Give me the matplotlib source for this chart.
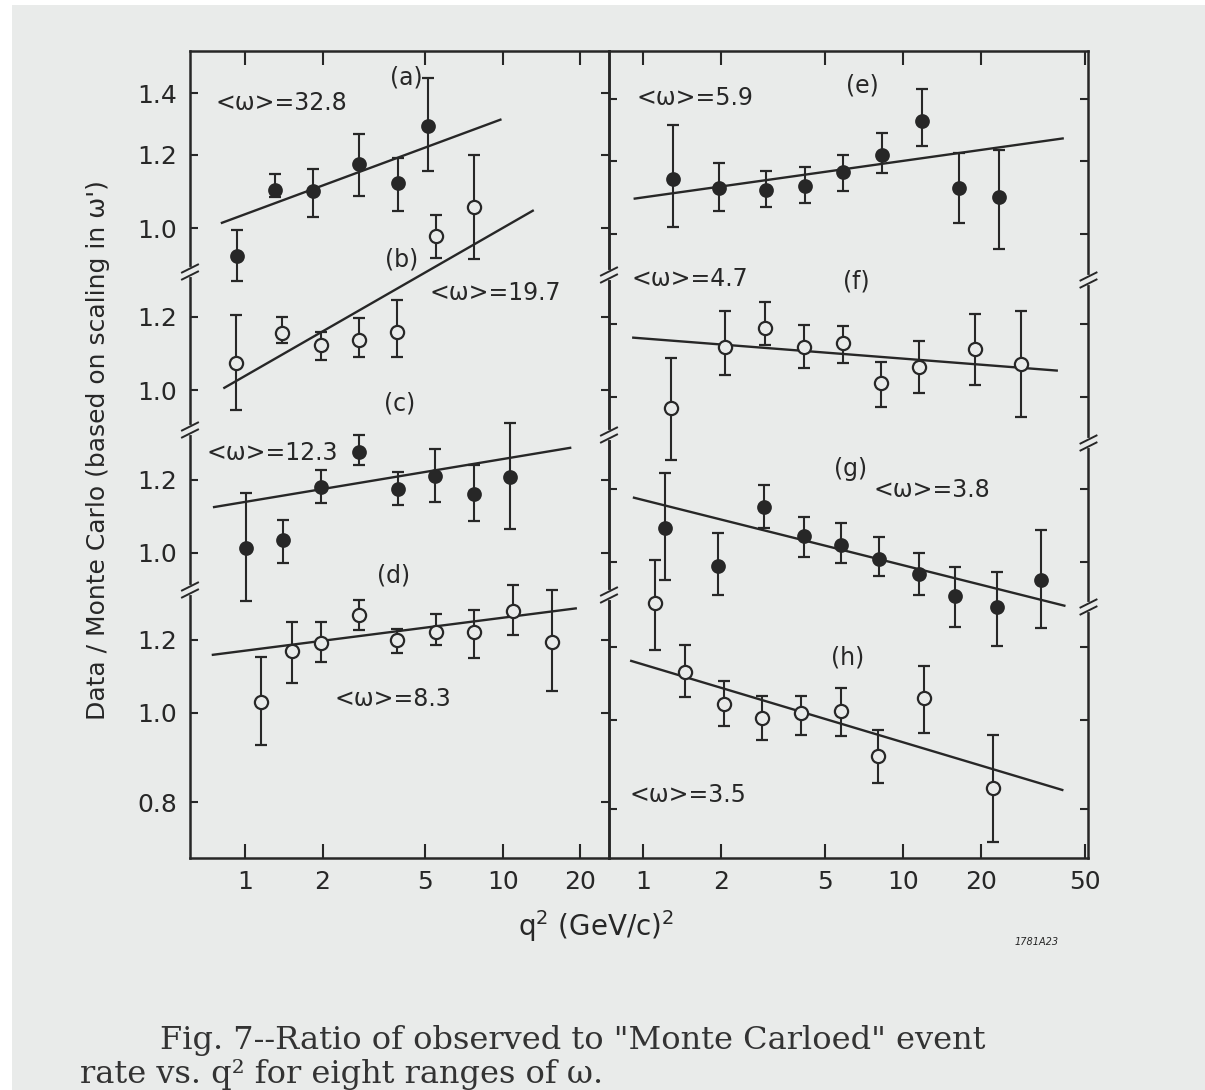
import numpy as np
import matplotlib
matplotlib.use("Agg")
import matplotlib.pyplot as plt
from matplotlib.patches import Rectangle
from matplotlib.lines import Line2D
from matplotlib.ticker import NullLocator

# ---------------- data (ratio Data/Monte Carlo vs q^2) ----------------
# (a) <w>=32.8  filled
q2_a = [0.93, 1.31, 1.84, 2.78, 3.93, 5.14]
r_a = [0.933, 1.100, 1.097, 1.173, 1.118, 1.290]
hi_a = [0.995, 1.143, 1.158, 1.264, 1.190, 1.453]
lo_a = [0.875, 1.080, 1.027, 1.083, 1.044, 1.154]
fitx_a = [0.806, 9.88]
fity_a = [1.012, 1.312]

# (b) <w>=19.7  open
q2_b = [0.923, 1.39, 1.963, 2.761, 3.88, 5.51, 7.70]
r_b = [1.069, 1.153, 1.119, 1.133, 1.157, 1.469, 1.580]
hi_b = [1.206, 1.200, 1.155, 1.196, 1.252, 1.548, 1.800]
lo_b = [0.951, 1.124, 1.078, 1.087, 1.087, 1.389, 1.386]
fitx_b = [0.824, 13.18]
fity_b = [1.004, 1.567]

# (c) <w>=12.3  filled
q2_c = [1.006, 1.405, 1.967, 2.771, 3.904, 5.475, 7.74, 10.69]
r_c = [1.012, 1.033, 1.178, 1.288, 1.172, 1.213, 1.159, 1.210]
hi_c = [1.161, 1.086, 1.230, 1.343, 1.225, 1.296, 1.246, 1.385]
lo_c = [0.888, 0.975, 1.132, 1.246, 1.127, 1.137, 1.084, 1.061]
fitx_c = [0.751, 18.43]
fity_c = [1.121, 1.301]

# (d) <w>=8.3  open
q2_d = [1.155, 1.516, 1.978, 2.766, 3.893, 5.505, 7.745, 10.95, 15.54]
r_d = [1.029, 1.168, 1.192, 1.277, 1.200, 1.225, 1.225, 1.291, 1.195]
hi_d = [1.151, 1.256, 1.256, 1.326, 1.232, 1.282, 1.293, 1.377, 1.360]
lo_d = [0.923, 1.077, 1.137, 1.230, 1.163, 1.185, 1.146, 1.215, 1.057]
fitx_d = [0.743, 19.37]
fity_d = [1.156, 1.299]

# (e) <w>=5.9  filled
q2_e = [1.305, 1.966, 2.975, 4.20, 5.87, 8.27, 11.79, 16.42, 23.32]
r_e = [1.147, 1.121, 1.116, 1.128, 1.167, 1.218, 1.326, 1.121, 1.096]
hi_e = [1.313, 1.195, 1.171, 1.183, 1.218, 1.286, 1.435, 1.223, 1.233]
lo_e = [1.018, 1.060, 1.071, 1.081, 1.113, 1.164, 1.246, 1.029, 0.963]
fitx_e = [0.92, 41.55]
fity_e = [1.092, 1.270]

# (f) <w>=4.7  open
q2_f = [1.276, 2.06, 2.949, 4.16, 5.89, 8.195, 11.57, 18.87, 28.44]
r_f = [0.972, 1.134, 1.187, 1.134, 1.145, 1.035, 1.079, 1.126, 1.086]
hi_f = [1.101, 1.240, 1.269, 1.197, 1.194, 1.090, 1.151, 1.230, 1.240]
lo_f = [0.855, 1.056, 1.139, 1.074, 1.088, 0.976, 1.009, 1.030, 0.951]
fitx_f = [0.908, 39.43]
fity_f = [1.160, 1.068]

# (g) <w>=3.8  filled
q2_g = [1.216, 1.94, 2.92, 4.15, 5.80, 8.06, 11.52, 15.88, 23.0, 34.07]
r_g = [1.088, 0.990, 1.148, 1.067, 1.043, 1.007, 0.971, 0.919, 0.894, 0.956]
hi_g = [1.248, 1.074, 1.212, 1.120, 1.103, 1.064, 1.023, 0.988, 0.976, 1.083]
lo_g = [0.956, 0.921, 1.088, 1.013, 0.997, 0.966, 0.921, 0.851, 0.811, 0.847]
fitx_g = [0.914, 42.17]
fity_g = [1.175, 0.896]

# (h) <w>=3.5  open
q2_h = [1.116, 1.456, 2.058, 2.859, 4.07, 5.76, 7.98, 12.09, 22.25]
r_h = [1.339, 1.128, 1.041, 1.006, 1.017, 1.023, 0.915, 1.056, 0.843]
hi_h = [1.491, 1.206, 1.103, 1.062, 1.062, 1.084, 0.975, 1.143, 0.963]
lo_h = [1.191, 1.058, 0.985, 0.951, 0.963, 0.961, 0.855, 0.967, 0.738]
fitx_h = [0.892, 41.4]
fity_h = [1.160, 0.839]

x_ticks_left = [1, 2, 5, 10, 20]
x_ticks_right = [1, 2, 5, 10, 20, 50]
y_ticks_band = {"a": [1.0, 1.2, 1.4], "b": [1.0, 1.2], "c": [1.0, 1.2],
                "d": [0.8, 1.0, 1.2], "e": [1.0, 1.2, 1.4], "f": [1.0, 1.2],
                "g": [1.0, 1.2], "h": [0.8, 1.0, 1.2]}

# ---------------- layout ----------------
W, H = 1205, 1090
BG = "#e9ebea"
INK = "#272727"
PXD = 922.0          # pixels per decade on the (log) ratio axis
P0 = 228.0           # pixel row of ratio 1.0 for band (a)
band_ref_px = {"a": 228, "b": 390, "c": 553, "d": 713,
               "e": 234, "f": 397, "g": 562, "h": 720}
fac = {k: 10 ** ((P0 - v) / PXD) for k, v in band_ref_px.items()}
TOP, BOT = 51.0, 857.5
ylim = (10 ** ((P0 - BOT) / PXD), 10 ** ((P0 - TOP) / PXD))

plt.rcParams["font.family"] = ["DejaVu Sans"]
fig = plt.figure(figsize=(W / 100, H / 100), dpi=100)
fig.patch.set_facecolor("white")
fig.patches.append(Rectangle((12 / W, 0), 1 - 12 / W, 1 - 5 / H,
                             transform=fig.transFigure, facecolor=BG,
                             edgecolor="none", zorder=-10))


def rect(x0, x1):
    return [x0 / W, 1 - BOT / H, (x1 - x0) / W, (BOT - TOP) / H]


def px(x, y):
    return x / W, 1 - y / H


axL = fig.add_axes(rect(190, 609))
axR = fig.add_axes(rect(609, 1088.5))
axL.set_xlim(0.612, 25.8)
axR.set_xlim(0.740, 51.7)

for ax, xt in ((axL, x_ticks_left), (axR, x_ticks_right)):
    ax.set_facecolor("none")
    ax.set_xscale("log")
    ax.set_yscale("log")
    ax.set_ylim(*ylim)
    ax.set_xticks(xt, [str(t) for t in xt])
    ax.xaxis.set_minor_locator(NullLocator())
    ax.yaxis.set_minor_locator(NullLocator())
    for s in ax.spines.values():
        s.set_linewidth(1.8)
        s.set_color(INK)
    ax.tick_params(axis="x", which="major", direction="in", top=True,
                   bottom=True, length=10, width=1.5, colors=INK,
                   labelsize=18, pad=9)
    ax.tick_params(axis="y", which="major", direction="in", left=True,
                   right=True, length=6, width=1.5, colors=INK,
                   labelsize=18, pad=9)


def band_ticks(keys):
    pos, lab = [], []
    for k in keys:
        for v in y_ticks_band[k]:
            pos.append(v * fac[k])
            lab.append(f"{v:.1f}")
    return pos, lab

pos, lab = band_ticks("abcd")
axL.set_yticks(pos, lab)
pos, lab = band_ticks("efgh")
axR.set_yticks(pos, [""] * len(pos))


def draw(ax, key, q2, r, lo, hi, fx, fy, filled):
    f = fac[key]
    r = np.asarray(r); lo = np.asarray(lo); hi = np.asarray(hi)
    ax.plot(fx, np.asarray(fy) * f, color=INK, lw=1.7, zorder=2,
            solid_capstyle="butt")
    ax.errorbar(q2, r * f, yerr=[(r - lo) * f, (hi - r) * f], fmt="o",
                ms=9 if filled else 9.5,
                mfc=INK if filled else BG, mec=INK, mew=1.6,
                ecolor=INK, elinewidth=1.5, capsize=4.5, capthick=1.5,
                zorder=3)

draw(axL, "a", q2_a, r_a, lo_a, hi_a, fitx_a, fity_a, True)
draw(axL, "b", q2_b, r_b, lo_b, hi_b, fitx_b, fity_b, False)
draw(axL, "c", q2_c, r_c, lo_c, hi_c, fitx_c, fity_c, True)
draw(axL, "d", q2_d, r_d, lo_d, hi_d, fitx_d, fity_d, False)
draw(axR, "e", q2_e, r_e, lo_e, hi_e, fitx_e, fity_e, True)
draw(axR, "f", q2_f, r_f, lo_f, hi_f, fitx_f, fity_f, False)
draw(axR, "g", q2_g, r_g, lo_g, hi_g, fitx_g, fity_g, True)
draw(axR, "h", q2_h, r_h, lo_h, hi_h, fitx_h, fity_h, False)

# axis-break marks
breaks = [(190, [272, 430, 590]), (609, [275, 435, 595]),
          (1088.5, [280, 443, 607])]
for x, ys in breaks:
    for y in ys:
        a, b = px(x, y - 3), px(x, y + 3)
        fig.add_artist(Line2D([a[0], b[0]], [a[1], b[1]],
                              transform=fig.transFigure, color=BG, lw=3,
                              zorder=5))
        for d in (-3.5, 3.5):
            a = px(x - 8, y + 4 + d)
            b = px(x + 8, y - 4 + d)
            fig.add_artist(Line2D([a[0], b[0]], [a[1], b[1]],
                                  transform=fig.transFigure, color=INK,
                                  lw=1.4, zorder=6))

# panel annotations
notes = [("(a)", 406, 77), ("<ω>=32.8", 281, 103), ("(b)", 402, 259),
         ("<ω>=19.7", 495, 293), ("(c)", 400, 404), ("<ω>=12.3", 272, 453),
         ("(d)", 394, 576), ("<ω>=8.3", 393, 699), ("(e)", 862, 85),
         ("<ω>=5.9", 695, 98), ("<ω>=4.7", 690, 279), ("(f)", 856, 281),
         ("(g)", 851, 469), ("<ω>=3.8", 932, 490), ("(h)", 848, 657),
         ("<ω>=3.5", 688, 795)]
for s, x, y in notes:
    fig.text(*px(x, y), s, ha="center", va="center", fontsize=17, color=INK)

fig.text(*px(98, 450), "Data / Monte Carlo (based on scaling in ω')",
         rotation=90, ha="center", va="center", fontsize=18, color=INK)
fig.text(*px(596, 926), r"q$^2$ (GeV/c)$^2$", ha="center", va="center",
         fontsize=20, color=INK)
fig.text(*px(1037, 942), "1781A23", ha="center", va="center", fontsize=7,
         color=INK, style="italic")

cap_font = dict(family=["DejaVu Serif"], fontsize=23, color="#333333")
fig.text(*px(160, 1040), 'Fig. 7--Ratio of observed to "Monte Carloed" event',
         ha="left", va="center", **cap_font)
fig.text(*px(80, 1075), "rate vs. q² for eight ranges of ω.",
         ha="left", va="center", **cap_font)

fig.savefig("out.png", dpi=100, facecolor=fig.get_facecolor())
